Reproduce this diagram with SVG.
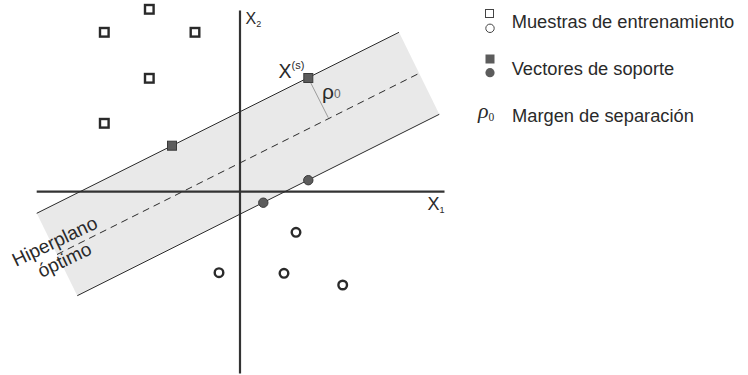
<svg xmlns="http://www.w3.org/2000/svg" width="748" height="375" viewBox="0 0 748 375">
<style>
.t{font-family:"Liberation Sans",Arial,sans-serif;fill:#2a2a2a}
.open{fill:#fff;stroke:#2a2a2a;stroke-width:2.4}
.sv{fill:#5c5c5c;stroke:#3a3a3a;stroke-width:1}
.edge{stroke:#2a2a2a;stroke-width:1;fill:none}
.axis{stroke:#333;stroke-width:2.2;fill:none}
</style>
<rect width="748" height="375" fill="#fff"/>
<g id="margin-band">
<polygon points="36.7,213.3 399,32.3 439.3,114.3 77.3,295.7" fill="#e9e9e9"/>
</g>
<g id="connectors">
<line class="axis" x1="36.7" y1="191.7" x2="444.5" y2="191.7"/>
<line class="axis" x1="240" y1="10.5" x2="240" y2="373.5"/>
<line class="edge" x1="36.7" y1="213.3" x2="399" y2="32.3"/>
<line class="edge" x1="77.3" y1="295.7" x2="439.3" y2="114.3"/>
<line class="edge" x1="57" y1="254.5" x2="419.2" y2="73.3" stroke-dasharray="7,5"/>
<line x1="308.3" y1="78" x2="328.3" y2="117.7" stroke="#888" stroke-width="0.8"/>
</g>
<g id="training-squares">
<rect class="open" x="145" y="5" width="8.6" height="8.6"/>
<rect class="open" x="100" y="28" width="8.6" height="8.6"/>
<rect class="open" x="190.7" y="28" width="8.6" height="8.6"/>
<rect class="open" x="145" y="74" width="8.6" height="8.6"/>
<rect class="open" x="100" y="119" width="8.6" height="8.6"/>
</g>
<g id="training-circles">
<circle class="open" cx="296" cy="232.3" r="4.3"/>
<circle class="open" cx="219" cy="272.7" r="4.3"/>
<circle class="open" cx="284" cy="273.3" r="4.3"/>
<circle class="open" cx="342.7" cy="285" r="4.3"/>
</g>
<g id="support-vectors">
<rect class="sv" x="303.8" y="73.5" width="9" height="9"/>
<rect class="sv" x="167.5" y="141.2" width="9" height="9"/>
<circle class="sv" cx="308.3" cy="180.2" r="4.7"/>
<circle class="sv" cx="263.3" cy="202.7" r="4.7"/>
</g>
<g id="labels">
<text class="t" x="245.5" y="23.5" font-size="16">X<tspan font-size="9" dy="3.5">2</tspan></text>
<text class="t" x="427.5" y="210" font-size="18">X<tspan font-size="9" dy="3">1</tspan></text>
<text class="t" x="278.5" y="78.3" font-size="19.5">X<tspan font-size="11" dy="-9.5">(s)</tspan></text>
<text class="t" x="322" y="99" font-size="21" fill="#444">ρ<tspan font-size="12" fill="#666" dy="-1">0</tspan></text>
<text class="t" font-size="19" transform="translate(16,267) rotate(-25.5)">Hiperplano</text>
<text class="t" font-size="19" transform="translate(41.5,278) rotate(-25.5)">óptimo</text>
</g>
<g id="legend">
<rect x="485.5" y="9.5" width="8" height="8" fill="#fff" stroke="#444" stroke-width="1"/>
<circle cx="490" cy="28.3" r="4.2" fill="#fff" stroke="#444" stroke-width="1"/>
<text class="t" x="511.7" y="27.7" font-size="18.3">Muestras de entrenamiento</text>
<rect x="485.5" y="54.5" width="9" height="9" fill="#5c5c5c"/>
<circle cx="490" cy="72.7" r="4.6" fill="#5c5c5c"/>
<text class="t" x="511.7" y="75" font-size="18.3">Vectores de soporte</text>
<text x="478" y="118" font-family="Liberation Serif,serif" font-style="italic" font-size="22" fill="#2a2a2a">ρ<tspan font-style="normal" font-size="11.5" dy="3">0</tspan></text>
<text class="t" x="512" y="121.5" font-size="18.3">Margen de separación</text>
</g>
</svg>
